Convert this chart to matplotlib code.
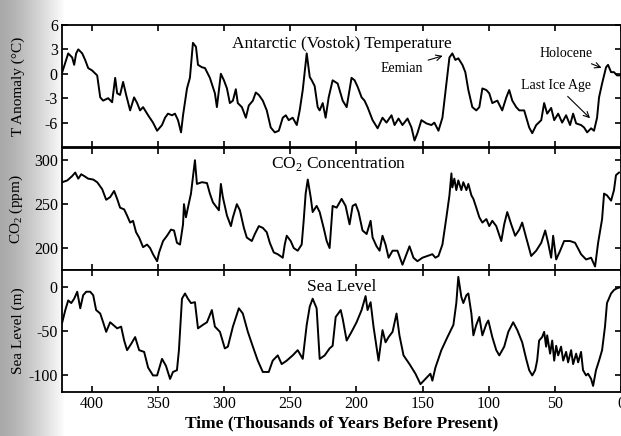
import numpy as np
import matplotlib.pyplot as plt

# ------------------------
# data
# ------------------------
temp_kyr = [422.4, 417.9, 414.9, 413.4, 411.9, 410.3, 407.3, 405.1, 402.8, 399.8,
            396.0, 393.7, 391.5, 387.7, 384.7, 382.4, 380.9, 378.7, 376.4, 374.1,
            371.1, 368.1, 365.8, 363.6, 361.3, 357.5, 353.8, 350.7, 347.0, 344.7,
            342.5, 339.4, 337.2, 334.9, 332.6, 331.1, 328.1, 325.9, 323.6, 321.3,
            319.8, 316.8, 314.5, 310.8, 307.0, 305.5, 302.5, 300.2, 297.9, 295.7,
            293.4, 291.2, 289.7, 286.6, 283.6, 281.4, 278.3, 276.1, 273.8, 270.8,
            267.8, 264.8, 261.7, 258.7, 255.7, 253.4, 251.2, 248.2, 245.1, 242.9,
            240.6, 237.6, 235.3, 233.8, 231.6, 229.3, 227.8, 225.5, 223.3, 221.0,
            218.0, 214.2, 210.4, 207.4, 203.7, 201.4, 199.1, 196.1, 193.9, 191.6,
            187.8, 184.0, 180.3, 177.3, 173.5, 171.2, 168.2, 165.2, 161.4, 158.4,
            156.1, 153.9, 150.9, 147.1, 143.3, 141.1, 138.0, 135.0, 132.0, 129.7,
            127.5, 125.2, 123.0, 119.9, 117.7, 115.4, 112.4, 109.4, 107.1, 104.8,
            101.8, 99.6, 97.3, 93.5, 89.8, 86.7, 84.5, 82.2, 79.2, 76.9,
            73.2, 69.4, 67.1, 64.1, 60.3, 58.1, 55.8, 52.8, 50.5, 47.5,
            44.5, 41.5, 38.5, 36.2, 33.9, 30.2, 27.9, 25.6, 22.6, 20.4,
            18.1, 16.6, 14.3, 11.3, 9.8, 7.5, 5.3, 3.0, 0.8]
temp_anom = [0.2, 2.5, 2.0, 1.1, 2.5, 3.0, 2.5, 1.7, 0.7, 0.4,
             -0.2, -2.9, -3.3, -3.0, -3.5, -0.5, -2.4, -2.6, -1.0, -2.6,
             -4.5, -2.9, -3.6, -4.5, -4.1, -5.1, -6.0, -7.0, -6.3, -5.4,
             -4.9, -5.1, -4.9, -5.7, -7.2, -5.1, -1.8, -0.5, 3.8, 3.3,
             1.1, 0.8, 0.7, -0.5, -2.4, -4.1, 0.0, -0.8, -1.8, -3.6,
             -3.3, -1.9, -3.6, -4.1, -5.4, -3.9, -3.3, -2.3, -2.6, -3.3,
             -4.5, -6.6, -7.2, -7.0, -5.4, -5.1, -5.7, -5.4, -6.3, -4.5,
             -2.0, 2.5, -0.4, -0.8, -1.5, -4.1, -4.5, -3.6, -5.4, -2.9,
             -0.8, -1.2, -3.3, -4.1, -0.5, -0.8, -1.6, -2.9, -3.3, -4.1,
             -5.7, -6.7, -5.4, -6.0, -5.1, -6.3, -5.5, -6.3, -5.5, -6.6,
             -8.2, -7.3, -5.7, -6.1, -6.3, -6.0, -7.0, -5.4, -1.2, 2.0,
             2.5, 1.7, 1.9, 1.1, 0.2, -2.0, -4.1, -4.5, -4.1, -1.8,
             -2.0, -2.4, -3.6, -3.3, -4.5, -2.9, -2.0, -3.3, -4.1, -4.5,
             -4.5, -6.6, -7.3, -6.3, -5.7, -3.6, -4.9, -4.2, -5.7, -4.9,
             -6.0, -5.1, -6.3, -4.9, -6.1, -6.3, -6.6, -7.2, -6.7, -7.0,
             -5.4, -2.9, -1.2, 0.8, 1.1, 0.2, 0.2, -0.2, -0.2]

co2_kyr = [422.4, 418.6, 414.9, 412.6, 410.3, 408.1, 405.8, 402.8, 399.0, 396.0,
           392.2, 389.2, 386.2, 383.2, 380.9, 378.7, 375.6, 373.4, 371.1, 368.9,
           366.6, 364.3, 361.3, 358.3, 356.0, 353.8, 350.7, 349.2, 346.2, 343.2,
           340.2, 337.9, 335.7, 333.4, 331.1, 330.4, 328.9, 327.4, 325.1, 323.6,
           322.1, 320.6, 316.8, 313.0, 310.8, 308.5, 305.5, 304.0, 302.5, 301.0,
           297.9, 294.9, 293.4, 290.4, 288.1, 285.1, 282.9, 279.1, 276.8, 273.8,
           270.8, 267.8, 265.5, 262.5, 259.5, 255.7, 254.2, 252.7, 249.7, 247.4,
           244.4, 241.4, 239.9, 238.4, 236.8, 234.6, 233.1, 230.1, 227.8, 224.8,
           222.5, 220.3, 218.0, 215.0, 211.2, 208.2, 205.2, 202.9, 200.6, 198.4,
           195.4, 192.3, 189.3, 187.8, 184.8, 182.5, 180.3, 178.0, 175.7, 172.7,
           169.0, 165.2, 162.2, 159.9, 156.9, 153.9, 150.1, 146.3, 142.6, 140.3,
           138.0, 135.0, 132.0, 129.7, 128.2, 127.5, 126.0, 124.5, 123.0, 120.7,
           119.2, 116.9, 115.4, 113.1, 111.6, 109.4, 107.1, 104.8, 101.8, 99.6,
           97.3, 94.3, 90.5, 88.3, 86.0, 83.0, 80.0, 76.9, 74.7, 71.7,
           67.9, 64.1, 60.3, 57.3, 55.1, 52.8, 51.3, 49.0, 46.0, 43.0,
           38.5, 34.7, 30.2, 26.4, 22.6, 19.6, 17.3, 14.3, 12.8, 10.6,
           7.5, 5.3, 3.8, 1.5]
co2_ppm = [275, 277, 282, 286, 279, 284, 282, 279, 278, 275,
           267, 255, 258, 265, 256, 246, 244, 237, 229, 231,
           218, 212, 201, 204, 200, 193, 185, 195, 208, 214,
           221, 220, 206, 204, 227, 250, 235, 246, 262, 281,
           300, 273, 275, 274, 262, 252, 246, 243, 273, 258,
           237, 225, 235, 250, 243, 223, 212, 208, 216, 225,
           223, 218, 206, 195, 193, 189, 204, 214, 208, 200,
           197, 204, 231, 262, 278, 258, 241, 248, 241, 223,
           208, 200, 248, 246, 256, 248, 227, 248, 250, 241,
           220, 216, 231, 212, 202, 197, 214, 204, 189, 197,
           197, 181, 193, 202, 189, 185, 189, 191, 193, 189,
           191, 204, 235, 260, 285, 269, 279, 266, 277, 266,
           275, 266, 273, 260, 256, 246, 235, 229, 233, 225,
           231, 225, 208, 227, 241, 227, 214, 221, 229, 212,
           191, 197, 206, 220, 206, 189, 214, 187, 197, 208,
           208, 206, 193, 187, 189, 179, 206, 233, 262, 260,
           254, 266, 283, 286]

sea_kyr = [422.4, 420.1, 417.9, 415.6, 413.4, 411.1, 408.8, 406.6, 404.3, 401.3,
           399.0, 396.8, 393.7, 391.5, 389.2, 386.2, 383.9, 380.9, 377.9, 375.6,
           373.4, 370.4, 367.3, 364.3, 360.5, 357.5, 353.8, 350.7, 347.0, 344.0,
           340.9, 338.7, 335.7, 334.2, 331.9, 329.6, 327.4, 325.1, 322.1, 319.8,
           316.1, 313.0, 309.3, 307.0, 303.2, 299.5, 297.2, 293.4, 288.9, 285.9,
           282.1, 278.3, 274.6, 270.8, 266.3, 263.3, 259.5, 256.5, 252.7, 248.2,
           244.4, 240.6, 237.6, 235.3, 233.1, 230.1, 227.8, 224.0, 220.3, 218.0,
           215.7, 211.9, 210.4, 207.4, 203.7, 199.9, 196.1, 193.1, 191.6, 189.3,
           187.1, 183.3, 180.3, 178.0, 175.7, 172.7, 169.7, 167.5, 164.4, 159.9,
           155.4, 151.6, 147.8, 144.1, 142.6, 140.3, 135.8, 131.2, 126.7, 124.5,
           123.0, 120.7, 119.2, 116.9, 115.4, 113.1, 111.6, 109.4, 107.1, 104.8,
           101.8, 100.3, 97.3, 94.3, 92.0, 88.3, 85.2, 81.5, 78.4, 74.7,
           71.7, 69.4, 67.1, 64.9, 63.4, 61.9, 59.6, 58.1, 56.6, 55.8,
           53.6, 52.0, 50.5, 49.0, 47.5, 45.3, 43.7, 41.5, 40.0, 37.7,
           36.2, 33.9, 32.4, 30.2, 28.7, 26.4, 24.9, 22.6, 21.1, 18.9,
           16.6, 14.3, 12.1, 10.6, 7.5, 5.3, 3.0, 0.8]
sea_level = [-40, -26, -15, -18, -13, -5, -24, -9, -5, -5,
             -9, -26, -30, -40, -51, -40, -43, -47, -45, -61,
             -72, -65, -57, -72, -74, -92, -101, -101, -82, -90,
             -105, -97, -95, -72, -13, -7, -13, -18, -17, -47,
             -43, -40, -26, -45, -51, -70, -68, -45, -24, -30,
             -51, -68, -84, -97, -97, -84, -78, -88, -84, -78,
             -72, -82, -43, -22, -13, -24, -82, -78, -70, -67,
             -34, -26, -36, -61, -51, -40, -26, -10, -26, -17,
             -45, -84, -49, -63, -57, -51, -30, -55, -78, -88,
             -99, -111, -105, -99, -107, -92, -72, -57, -43, -18,
             12, -11, -18, -9, -7, -30, -55, -43, -34, -55,
             -42, -38, -57, -72, -78, -68, -51, -40, -49, -63,
             -82, -95, -101, -95, -84, -61, -57, -51, -68, -55,
             -76, -61, -84, -67, -78, -68, -84, -74, -86, -72,
             -88, -76, -86, -74, -95, -101, -99, -105, -113, -95,
             -84, -72, -45, -18, -7, -3, -1, 0]

x_ticks = [400, 350, 300, 250, 200, 150, 100, 50, 0]
temp_ticks = [6, 3, 0, -3, -6]
co2_ticks = [200, 250, 300]
sea_ticks = [0, -50, -100]

# ------------------------
# style
# ------------------------
plt.rcParams['font.family'] = ['Liberation Serif', 'DejaVu Serif']
plt.rcParams['mathtext.fontset'] = 'custom'
plt.rcParams['mathtext.rm'] = 'Liberation Serif'
plt.rcParams['axes.unicode_minus'] = False

fig = plt.figure(figsize=(6.21, 4.36), dpi=100)

# grey scan shading along the left edge
bg = fig.add_axes([0, 0, 1, 1], zorder=-10)
grad = np.linspace(0.0, 1.0, 621)
shade = np.clip(0.66 + 0.34 * (grad / 0.105) ** 1.3, 0, 1)
bg.imshow(np.tile(shade, (10, 1)), cmap='gray', vmin=0, vmax=1,
          aspect='auto', extent=[0, 1, 0, 1])
bg.axis('off')

left, width = 62 / 621, 559 / 621
bottoms = [0.6628, 0.3807, 0.1009]
h = 0.2800
axes = [fig.add_axes([left, b, width, h]) for b in bottoms]
ax1, ax2, ax3 = axes

ax1.plot(temp_kyr, temp_anom, color='black', lw=1.4)
ax2.plot(co2_kyr, co2_ppm, color='black', lw=1.4)
ax3.plot(sea_kyr, sea_level, color='black', lw=1.4)

ax1.set_ylim(-9, 6)
ax1.set_yticks(temp_ticks)
ax2.set_ylim(175, 314)
ax2.set_yticks(co2_ticks)
ax3.set_ylim(-120, 20)
ax3.set_yticks(sea_ticks)

for ax in axes:
    ax.set_xlim(422.6, 0)
    ax.set_xticks(x_ticks)
    ax.set_facecolor('white')
    ax.tick_params(direction='in', top=True, right=True, length=4,
                   width=1.2, labelsize=11.5, pad=3)
    for s in ax.spines.values():
        s.set_linewidth(1.3)
for ax in (ax1, ax2):
    ax.tick_params(labelbottom=False)

ax1.set_ylabel('T Anomaly (°C)', fontsize=11)
ax2.set_ylabel('CO$_2$ (ppm)', fontsize=11)
ax3.set_ylabel('Sea Level (m)', fontsize=11)
for ax in axes:
    ax.yaxis.set_label_coords(-0.066, 0.5)
ax3.set_xlabel('Time (Thousands of Years Before Present)', fontsize=12.5,
               fontweight='bold', labelpad=2)

ax1.text(0.5, 0.84, 'Antarctic (Vostok) Temperature', transform=ax1.transAxes,
         ha='center', va='center', fontsize=12.5)
ax2.text(0.495, 0.87, 'CO$_2$ Concentration', transform=ax2.transAxes,
         ha='center', va='center', fontsize=12.5)
ax3.text(0.5, 0.86, 'Sea Level', transform=ax3.transAxes,
         ha='center', va='center', fontsize=12.5)

arrow = dict(arrowstyle='->', color='black', lw=0.8)
ax1.annotate('Eemian', xy=(132.8, 2.3), xytext=(166, 0.7), fontsize=10,
             ha='center', va='center', arrowprops=arrow)
ax1.annotate('Holocene', xy=(12.8, 0.6), xytext=(41.5, 2.5), fontsize=10,
             ha='center', va='center', arrowprops=arrow)
ax1.annotate('Last Ice Age', xy=(21.9, -5.7), xytext=(49, -1.4), fontsize=10,
             ha='center', va='center', arrowprops=arrow)

fig.savefig('out.png', dpi=100)
